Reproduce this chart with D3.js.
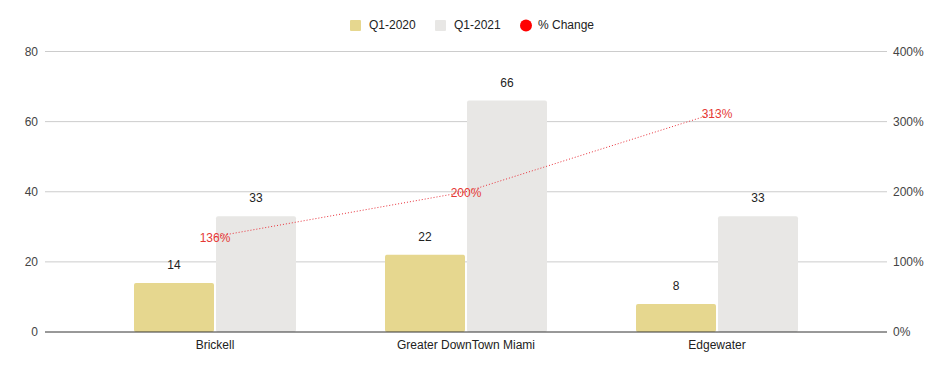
<!DOCTYPE html>
<html>
<head>
<meta charset="utf-8">
<script src="https://cdn.jsdelivr.net/npm/d3@7"></script>
<style>
  body { margin: 0; background: #fff; }
  text { font-family: "Liberation Sans", Arial, sans-serif; }
</style>
</head>
<body>
<div id="chart"></div>
<script>
const categories = ["Brickell", "Greater DownTown Miami", "Edgewater"]
const q12020 = [14, 22, 8]
const q12021 = [33, 66, 33]
const pctChange = [136, 200, 313]
const leftTicks = [0, 20, 40, 60, 80]
const rightTicks = [0, 100, 200, 300, 400]
const seriesNames = ["Q1-2020", "Q1-2021"]
const seriesColors = ["#e6d78f", "#e8e7e5"]
const lineColor = "#e8303a"

const width = 944
const height = 371
const plotLeft = 45, plotRight = 887
const plotTop = 51.5, plotBottom = 332

const svg = d3.select("#chart")
    .append("svg")
    .attr("width", width)
    .attr("height", height)

const yLeft = d3.scaleLinear().domain([0, 80]).range([plotBottom, plotTop])
const yRight = d3.scaleLinear().domain([0, 400]).range([plotBottom, plotTop])

const x0 = d3.scaleBand()
    .domain(categories)
    .range([89.5, 842.5])

const groupW = 162
const x1 = d3.scaleBand()
    .domain(seriesNames)
    .range([0, groupW])
    .paddingInner(0.0244)

// gridlines
svg.append("g")
    .selectAll("line")
    .data(leftTicks.filter(d => d !== 0))
    .join("line")
    .attr("x1", plotLeft)
    .attr("x2", plotRight)
    .attr("y1", d => yLeft(d))
    .attr("y2", d => yLeft(d))
    .attr("stroke", "#cccccc")
    .attr("stroke-width", 1)

// left axis labels
svg.append("g")
    .selectAll("text")
    .data(leftTicks)
    .join("text")
    .attr("x", 38)
    .attr("y", d => yLeft(d))
    .attr("dy", "0.35em")
    .attr("text-anchor", "end")
    .attr("font-size", 12)
    .attr("fill", "#444")
    .text(d => d)

// right axis labels
svg.append("g")
    .selectAll("text")
    .data(rightTicks)
    .join("text")
    .attr("x", 893)
    .attr("y", d => yRight(d))
    .attr("dy", "0.35em")
    .attr("text-anchor", "start")
    .attr("font-size", 12)
    .attr("fill", "#444")
    .text(d => d + "%")

// bars
const rows = categories.map((c, i) => ({cat: c, vals: [q12020[i], q12021[i]]}))
const groups = svg.append("g")
    .selectAll("g")
    .data(rows)
    .join("g")
    .attr("transform", d => `translate(${x0(d.cat) + (x0.bandwidth() - groupW) / 2}, 0)`)

groups.selectAll("rect")
    .data(d => d.vals.map((v, j) => ({name: seriesNames[j], v, j})))
    .join("rect")
    .attr("x", d => x1(d.name))
    .attr("y", d => yLeft(d.v))
    .attr("width", x1.bandwidth())
    .attr("height", d => plotBottom - yLeft(d.v))
    .attr("rx", 2)
    .attr("fill", d => seriesColors[d.j])

groups.selectAll("text")
    .data(d => d.vals.map((v, j) => ({name: seriesNames[j], v})))
    .join("text")
    .attr("x", d => x1(d.name) + x1.bandwidth() / 2)
    .attr("y", d => yLeft(d.v) - 18)
    .attr("dy", "0.35em")
    .attr("text-anchor", "middle")
    .attr("font-size", 12)
    .attr("fill", "#222")
    .text(d => d.v)

// baseline
svg.append("line")
    .attr("x1", plotLeft)
    .attr("x2", plotRight)
    .attr("y1", plotBottom)
    .attr("y2", plotBottom)
    .attr("stroke", "#333")
    .attr("stroke-width", 1)

// category labels
svg.append("g")
    .selectAll("text")
    .data(categories)
    .join("text")
    .attr("x", d => x0(d) + x0.bandwidth() / 2)
    .attr("y", 345)
    .attr("dy", "0.35em")
    .attr("text-anchor", "middle")
    .attr("font-size", 12)
    .attr("fill", "#222")
    .text(d => d)

// % change line
const pts = categories.map((c, i) => ({cat: c, v: pctChange[i]}))
const line = d3.line()
    .x(d => x0(d.cat) + x0.bandwidth() / 2)
    .y(d => yRight(d.v))

svg.append("path")
    .datum(pts)
    .attr("d", line)
    .attr("fill", "none")
    .attr("stroke", lineColor)
    .attr("stroke-width", 1)
    .attr("stroke-dasharray", "1,2")

svg.append("g")
    .selectAll("text")
    .data(pts)
    .join("text")
    .attr("x", d => x0(d.cat) + x0.bandwidth() / 2)
    .attr("y", d => yRight(d.v) + 1)
    .attr("dy", "0.35em")
    .attr("text-anchor", "middle")
    .attr("font-size", 12)
    .attr("fill", "#e53935")
    .text(d => d.v + "%")

// legend
const legend = svg.append("g").attr("transform", "translate(0, 25)")
legend.append("rect").attr("x", 350).attr("y", -5).attr("width", 11).attr("height", 11)
    .attr("rx", 1).attr("fill", seriesColors[0])
legend.append("text").attr("x", 369).attr("y", 0).attr("dy", "0.35em")
    .attr("font-size", 12).attr("fill", "#222").text(seriesNames[0])
legend.append("rect").attr("x", 435).attr("y", -5).attr("width", 11).attr("height", 11)
    .attr("rx", 1).attr("fill", seriesColors[1])
legend.append("text").attr("x", 454).attr("y", 0).attr("dy", "0.35em")
    .attr("font-size", 12).attr("fill", "#222").text(seriesNames[1])
legend.append("circle").attr("cx", 526).attr("cy", 0.5).attr("r", 6)
    .attr("fill", "#ff0000")
legend.append("text").attr("x", 538).attr("y", 0).attr("dy", "0.35em")
    .attr("font-size", 12).attr("fill", "#222").text("% Change")
</script>
</body>
</html>
